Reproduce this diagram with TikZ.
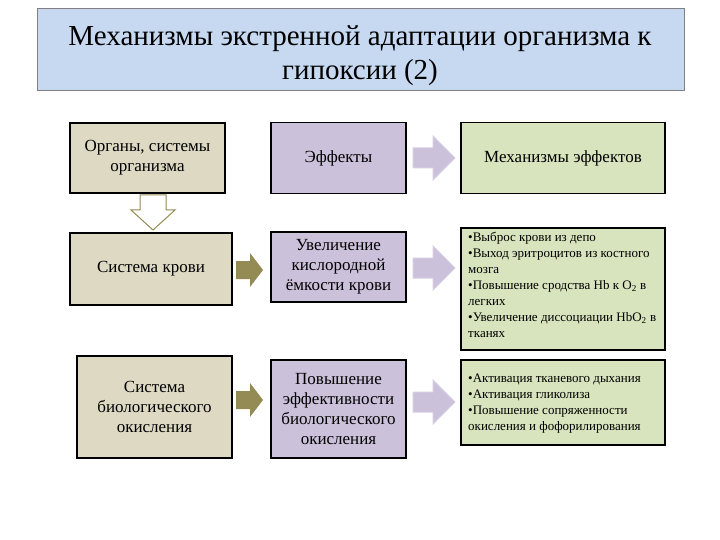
\documentclass[tikz,border=0pt]{standalone}
\usepackage{fontspec}
\setmainfont{Liberation Serif}
\definecolor{tan}{HTML}{DDD9C3}
\definecolor{lav}{HTML}{CCC1DA}
\definecolor{grn}{HTML}{D7E4BD}
\definecolor{ttl}{HTML}{C6D9F1}
\definecolor{oliv}{HTML}{948A54}
\begin{document}
\begin{tikzpicture}[x=1pt,y=-1pt,
 box/.style={draw=black,line width=1.5pt,align=center,font=\fontsize{17}{20}\selectfont,inner sep=2pt},
 tanbox/.style={box,fill=tan},
 lavbox/.style={box,fill=lav},
 grnbox/.style={box,fill=grn},
 small/.style={font=\fontsize{13}{16}\selectfont,align=flush left,text width=192pt,inner sep=0pt}]
\useasboundingbox (0,0) rectangle (720,540);
\fill[white] (0,0) rectangle (720,540);
\draw[gray,fill=ttl] (37,8) rectangle (684,90);
\node[align=center,font=\fontsize{29}{34}\selectfont] (title) at (360,56) {Механизмы экстренной адаптации организма к\\гипоксии (2)};
% left column
\node[tanbox,minimum width=155pt,minimum height=70pt] (l1) at (147.5,158) {Органы, системы\\организма};
\node[tanbox,minimum width=162pt,minimum height=72pt] (l2) at (151,269) {Система крови};
\node[tanbox,minimum width=155pt,minimum height=102pt] (l3) at (154.5,407) {Система\\биологического\\окисления};
% middle
\node[lavbox,minimum width=135pt,minimum height=71pt] (m1) at (338.5,158) {Эффекты};
\node[lavbox,minimum width=135pt,minimum height=70pt] (m2) at (338.5,267) {Увеличение\\кислородной\\ёмкости крови};
\node[lavbox,minimum width=135pt,minimum height=98pt] (m3) at (338.5,409) {Повышение\\эффективности\\биологического\\окисления};
% right
\node[grnbox,minimum width=204pt,minimum height=71pt] (r1) at (563,158) {Механизмы эффектов};
\node[grnbox,minimum width=204pt,minimum height=122pt] (r2) at (563,289) {};
\node[small,anchor=north west] (r2t) at (468,232) {•Выброс крови из депо\\•Выход эритроцитов из костного мозга\\•Повышение сродства Hb к O\textsubscript{2} в легких\\•Увеличение диссоциации HbO\textsubscript{2} в тканях};
\node[grnbox,minimum width=204pt,minimum height=85pt] (r3) at (563,402.5) {};
\node[small,anchor=north west] (r3t) at (468,374) {•Активация тканевого дыхания\\•Активация гликолиза\\•Повышение сопряженности окисления и фофорилирования};
% hollow down arrow
\draw[oliv,line width=1pt,fill=white] (140,195)--(166,195)--(166,210)--(175,210)--(153,230)--(131,210)--(140,210)--cycle;
% olive arrows
\foreach \y in {270,400}{
 \fill[oliv] (236,\y-9)--(250,\y-9)--(250,\y-17)--(263,\y)--(250,\y+17)--(250,\y+9)--(236,\y+9)--cycle;}
% lavender arrows
\foreach \y in {158,268,402}{
 \draw[lav!80!white,fill=lav,line width=1pt] (413,\y-10)--(433,\y-10)--(433,\y-22)--(455,\y)--(433,\y+22)--(433,\y+10)--(413,\y+10)--cycle;}
\end{tikzpicture}
\end{document}
